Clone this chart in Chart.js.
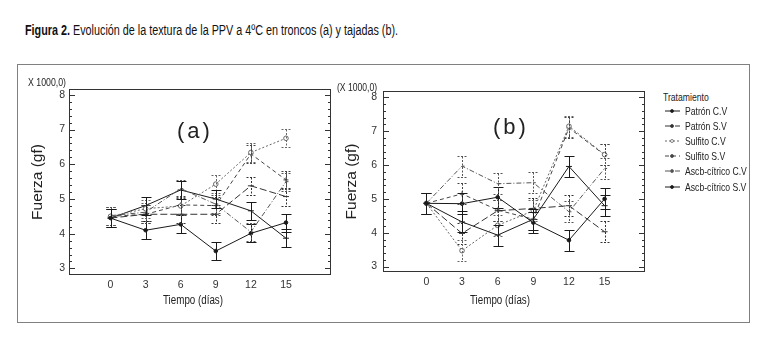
<!DOCTYPE html>
<html>
<head>
<meta charset="utf-8">
<script src="https://cdn.jsdelivr.net/npm/chart.js@4.4.0/dist/chart.umd.min.js"></script>
<style>
  body { margin: 0; width: 784px; height: 346px; position: relative; overflow: hidden; background: #fff;
         font-family: "Liberation Sans", Arial, sans-serif; color: #222; }
  .t { position: absolute; white-space: nowrap; line-height: 1; transform-origin: 0 50%; }
  #frame { position: absolute; left: 17px; top: 64px; width: 731px; height: 257px; border: 1px solid #808080; }
  canvas { position: absolute; }
  #legend { position: absolute; left: 663px; top: 91px; font-size: 11.5px; color: #222; }
  #legend .row { height: 15.2px; display: flex; align-items: center; white-space: nowrap; }
  #legend .row.head { height: 12px; }
  #legend .lbl { display: inline-block; transform: scaleX(0.75); transform-origin: 0 50%; }
  #legend svg { margin-right: 4px; flex: none; }
</style>
</head>
<body>
<div class="t" data-w="373" style="left:25px;top:23px;font-size:14px;color:#111;"><b>Figura 2.</b> Evolución de la textura de la PPV a 4ºC en troncos (a) y tajadas (b).</div>
<div id="frame"></div>
<canvas id="chartA" width="345" height="260" style="left:0;top:60px;width:345px;height:260px"></canvas>
<canvas id="chartB" width="330" height="260" style="left:330px;top:60px;width:330px;height:260px"></canvas>
<div class="t" data-w="38" style="left:28px;top:77px;font-size:10.5px;">X 1000,0)</div>
<div class="t" data-w="40" style="left:337px;top:82px;font-size:10.5px;">(X 1000,0)</div>
<div class="t" data-w="60" style="left:163px;top:294px;font-size:12.5px;">Tiempo (días)</div>
<div class="t" data-w="60" style="left:470px;top:294px;font-size:12.5px;">Tiempo (días)</div>
<div class="t" style="left:177px;top:120px;font-size:22px;letter-spacing:3px;">(a)</div>
<div class="t" style="left:493px;top:116px;font-size:22px;letter-spacing:3px;">(b)</div>
<div id="legend"></div>
<script>
document.addEventListener('DOMContentLoaded', () => {

const days = [0, 3, 6, 9, 12, 15];
const yTicks = [3, 4, 5, 6, 7, 8];
const seriesNames = ['Patrón C.V', 'Patrón S.V', 'Sulfito C.V', 'Sulfito S.V', 'Ascb-cítrico C.V', 'Ascb-cítrico S.V'];

// (a) troncos, fuerza x 1000 gf
const aPatronCV  = [4.45, 4.10, 4.27, 3.50, 4.01, 4.32];
const aPatronSV  = [4.45, 4.56, 4.56, 4.56, 5.38, 5.07];
const aSulfitoCV = [4.50, 4.72, 4.80, 5.43, 6.34, 6.75];
const aSulfitoSV = [4.50, 4.56, 4.83, 4.81, 6.30, 5.55];
const aAscbCV    = [4.52, 4.62, 5.30, 4.85, 4.05, 5.50];
const aAscbSV    = [4.45, 4.81, 5.26, 5.00, 4.66, 3.87];
const aErr = 0.26;

// (b) tajadas
const bPatronCV  = [4.87, 4.86, 5.05, 4.30, 3.78, 5.00];
const bPatronSV  = [4.87, 3.98, 4.65, 4.72, 4.80, 4.03];
const bSulfitoCV = [4.87, 3.47, 4.22, 4.65, 7.15, 6.31];
const bSulfitoSV = [4.87, 5.15, 4.67, 4.40, 7.10, 6.30];
const bAscbCV    = [4.87, 5.97, 5.45, 5.48, 4.62, 5.90];
const bAscbSV    = [4.87, 4.32, 3.93, 4.40, 5.96, 4.80];
const bErr = 0.31;

const styles = [
  { color: '#1a1a1a', dash: [],           point: 'circle', radius: 1.8, fill: '#1a1a1a' },
  { color: '#333',    dash: [7, 3],       point: 'line',   radius: 3,   fill: '#333' },
  { color: '#666',    dash: [2, 2],       point: 'circle', radius: 2.3, fill: '#fff' },
  { color: '#444',    dash: [4, 3],       point: 'cross',  radius: 2.5, fill: '#444' },
  { color: '#555',    dash: [5, 2, 1, 2], point: 'dash',   radius: 2.5, fill: '#555' },
  { color: '#1a1a1a', dash: [],           point: 'line',   radius: 3,   fill: '#1a1a1a' }
];

const tickFont = { family: '"Liberation Sans", Arial, sans-serif', size: 10.5 };

const boxPlugin = {
  id: 'box',
  beforeDatasetsDraw(chart) {
    const { ctx, chartArea: a, scales: { y } } = chart;
    ctx.save();
    ctx.strokeStyle = '#333';
    ctx.lineWidth = 1;
    ctx.strokeRect(a.left + 0.5, a.top + 0.5, a.right - a.left - 1, a.bottom - a.top - 1);
    ctx.beginPath();
    for (let i = Math.ceil(y.min * 5); i <= Math.floor(y.max * 5); i++) {
      const py = Math.round(y.getPixelForValue(i / 5)) + 0.5;
      const len = (i % 5 === 0) ? 6 : 3;
      ctx.moveTo(a.left, py); ctx.lineTo(a.left + len, py);
      ctx.moveTo(a.right, py); ctx.lineTo(a.right - len, py);
    }
    ctx.stroke();
    ctx.restore();
  },
  afterDatasetsDraw(chart, args, opts) {
    const { ctx, scales: { x, y } } = chart;
    const err = opts.err;
    chart.data.datasets.forEach((ds, i) => {
      const st = styles[i];
      ctx.save();
      ctx.strokeStyle = st.color;
      ctx.lineWidth = 1;
      ctx.setLineDash(st.dash.length ? [2, 1.5] : []);
      ds.data.forEach(p => {
        const px = Math.round(x.getPixelForValue(p.x)) + 0.5;
        const top = Math.round(y.getPixelForValue(p.y + err)) + 0.5;
        const bot = Math.round(y.getPixelForValue(p.y - err)) + 0.5;
        ctx.beginPath();
        ctx.moveTo(px, top); ctx.lineTo(px, bot);
        ctx.moveTo(px - 5, top); ctx.lineTo(px + 5, top);
        ctx.moveTo(px - 5, bot); ctx.lineTo(px + 5, bot);
        ctx.stroke();
      });
      ctx.restore();
    });
  }
};

function makeChart(id, series, cfg) {
  const datasets = series.map((vals, i) => ({
    label: seriesNames[i],
    data: days.map((d, j) => ({ x: d, y: vals[j] })),
    borderColor: styles[i].color,
    borderDash: styles[i].dash,
    borderWidth: 1,
    pointStyle: styles[i].point,
    pointRadius: styles[i].radius,
    pointBackgroundColor: styles[i].fill,
    pointBorderColor: styles[i].color,
    pointBorderWidth: 1,
    tension: 0
  }));
  return new Chart(document.getElementById(id), {
    type: 'line',
    data: { datasets },
    plugins: [boxPlugin],
    options: {
      responsive: false,
      animation: false,
      layout: { padding: cfg.padding },
      plugins: { legend: { display: false }, tooltip: { enabled: false }, box: { err: cfg.err } },
      scales: {
        x: {
          type: 'linear', min: cfg.xMin, max: cfg.xMax,
          afterBuildTicks: s => { s.ticks = days.map(v => ({ value: v })); },
          afterFit: s => { s.height = cfg.xH; },
          grid: { display: false, drawTicks: false },
          border: { display: false },
          ticks: { padding: 4, color: '#333', font: tickFont }
        },
        y: {
          type: 'linear', min: cfg.yMin, max: cfg.yMax,
          afterBuildTicks: s => { s.ticks = yTicks.map(v => ({ value: v })); },
          afterFit: s => { s.width = cfg.yW; },
          grid: { display: false, drawTicks: false },
          border: { display: false },
          ticks: { padding: cfg.tickPad, color: '#333', font: tickFont },
          title: {
            display: true, text: 'Fuerza (gf)', color: '#222',
            font: { family: '"Liberation Sans", Arial, sans-serif', size: 15.5 },
            padding: { top: cfg.titlePad, bottom: 0 }
          }
        }
      }
    }
  });
}

makeChart('chartA', [aPatronCV, aPatronSV, aSulfitoCV, aSulfitoSV, aAscbCV, aAscbSV], {
  xMin: -3.55, xMax: 18.85, yMin: 2.81, yMax: 8.17,
  padding: { left: 0, top: 29, right: 14, bottom: 13 },
  xH: 32, yW: 69, tickPad: 4, titlePad: 28, err: aErr
});

makeChart('chartB', [bPatronCV, bPatronSV, bSulfitoCV, bSulfitoSV, bAscbCV, bAscbSV], {
  xMin: -3.65, xMax: 18.4, yMin: 2.84, yMax: 8.19,
  padding: { left: 0, top: 31, right: 15, bottom: 13 },
  xH: 35, yW: 53, tickPad: 6, titlePad: 12, err: bErr
});

// legend
const legend = document.getElementById('legend');
let html = '<div class="row head"><span class="lbl">Tratamiento</span></div>';
seriesNames.forEach((name, i) => {
  const st = styles[i];
  const dash = st.dash.length ? st.dash.join(' ') : 'none';
  html += '<div class="row"><svg width="18" height="8"><line x1="2" y1="4" x2="17" y2="4" stroke="' + st.color +
          '" stroke-width="1" stroke-dasharray="' + dash + '"/><circle cx="9" cy="4" r="1.5" fill="' + st.fill +
          '" stroke="' + st.color + '" stroke-width="0.8"/></svg><span class="lbl">' + name + '</span></div>';
});
legend.innerHTML = html;

// squeeze condensed text to the widths of the original
document.querySelectorAll('.t[data-w]').forEach(el => {
  const w = el.getBoundingClientRect().width;
  el.style.transform = 'scaleX(' + (parseFloat(el.dataset.w) / w) + ')';
});
});
</script>
</body>
</html>
